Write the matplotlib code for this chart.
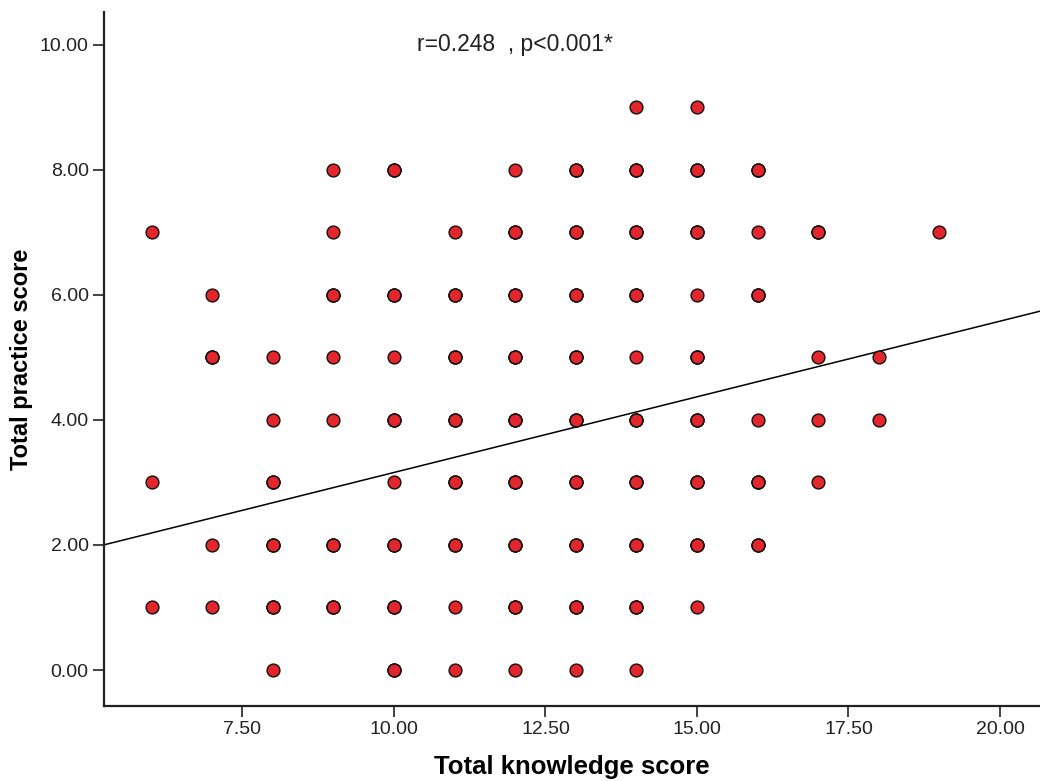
import numpy as np
import matplotlib
matplotlib.use("Agg")
import matplotlib.pyplot as plt

plt.rcParams['font.family'] = ['Liberation Sans', 'DejaVu Sans']

# knowledge score (x), practice score (y), rough overlap count read from marker darkness
knowledge = [14, 15,
             9, 10, 12, 13, 14, 15, 16,
             6, 9, 11, 12, 13, 14, 15, 16, 17, 19,
             7, 9, 10, 11, 12, 13, 14, 15, 16,
             7, 8, 9, 10, 11, 12, 13, 14, 15, 17, 18,
             8, 9, 10, 11, 12, 13, 14, 15, 16, 17, 18,
             6, 8, 10, 11, 12, 13, 14, 15, 16, 17,
             7, 8, 9, 10, 11, 12, 13, 14, 15, 16,
             6, 7, 8, 9, 10, 11, 12, 13, 14, 15,
             8, 10, 11, 12, 13, 14]
practice = [9, 9,
            8, 8, 8, 8, 8, 8, 8,
            7, 7, 7, 7, 7, 7, 7, 7, 7, 7,
            6, 6, 6, 6, 6, 6, 6, 6, 6,
            5, 5, 5, 5, 5, 5, 5, 5, 5, 5, 5,
            4, 4, 4, 4, 4, 4, 4, 4, 4, 4, 4,
            3, 3, 3, 3, 3, 3, 3, 3, 3, 3,
            2, 2, 2, 2, 2, 2, 2, 2, 2, 2,
            1, 1, 1, 1, 1, 1, 1, 1, 1, 1,
            0, 0, 0, 0, 0, 0]
counts = [1, 1,
          1, 3, 1, 3, 3, 3, 3,
          1, 1, 1, 3, 3, 3, 3, 1, 3, 1,
          1, 3, 3, 3, 3, 3, 3, 1, 3,
          3, 1, 1, 1, 3, 3, 3, 1, 3, 1, 1,
          1, 1, 3, 3, 3, 3, 3, 3, 1, 1, 1,
          1, 3, 1, 3, 3, 3, 3, 3, 3, 1,
          1, 3, 3, 3, 3, 3, 3, 3, 3, 3,
          1, 1, 3, 3, 3, 1, 3, 3, 3, 1,
          1, 3, 1, 1, 1, 1]

# fit line
fit_intercept = 0.74
fit_slope = 0.242
annot = "r=0.248  , p<0.001*"

x_ticks = [7.5, 10.0, 12.5, 15.0, 17.5, 20.0]
y_ticks = [0, 2, 4, 6, 8, 10]

xs = np.repeat(knowledge, counts)
ys = np.repeat(practice, counts)

fig = plt.figure(figsize=(10.4, 7.81), dpi=100)
ax = fig.add_axes([0.1, 0.096, 0.9, 0.889])

ax.scatter(xs, ys, s=85, c='#e3262c', edgecolors='#111111', linewidths=1.0, zorder=3)

xlim = (5.215, 20.66)
ax.set_xlim(xlim)
ax.set_ylim(-0.576, 10.53)
lx = np.array(xlim)
ax.plot(lx, fit_intercept + fit_slope * lx, color='black', lw=1.1, zorder=2)

ax.text(12.0, 10.0, annot, ha='center', va='center', fontsize=16.5, color='#222222')

ax.set_xticks(x_ticks)
ax.set_yticks(y_ticks)
ax.set_xticklabels([f"{v:.2f}" for v in x_ticks], fontsize=14)
ax.set_yticklabels([f"{v:.2f}" for v in y_ticks], fontsize=14)
ax.tick_params(direction='out', length=8, width=1.2, pad=3, colors='#222222')

ax.spines['top'].set_visible(False)
ax.spines['right'].set_visible(False)
for s in ['left', 'bottom']:
    ax.spines[s].set_linewidth(1.6)
    ax.spines[s].set_color('#222222')

ax.set_xlabel('Total knowledge score', fontsize=18.5, fontweight='bold', labelpad=12)
ax.set_ylabel('Total practice score', fontsize=17, fontweight='bold', labelpad=5)

fig.savefig('out.png', dpi=100)
